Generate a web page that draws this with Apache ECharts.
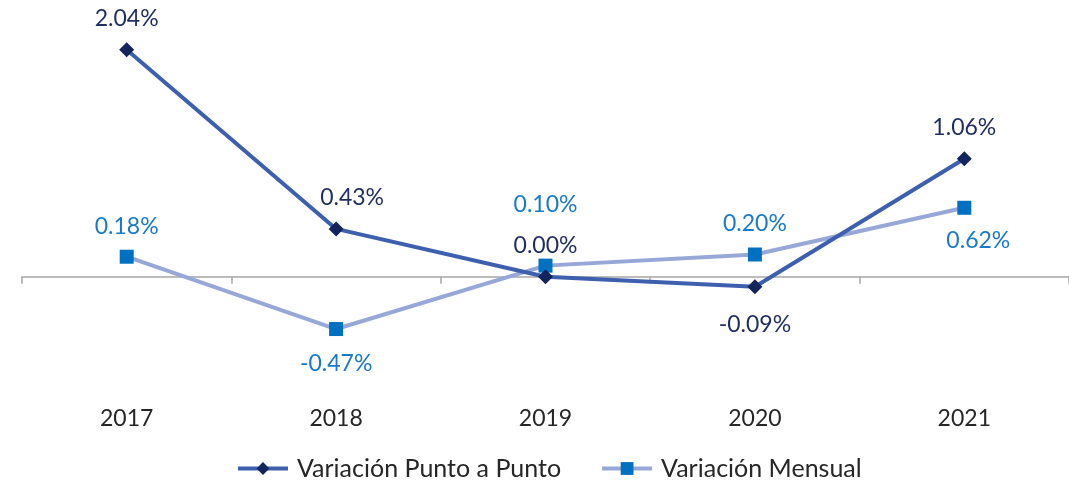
<!DOCTYPE html>
<html>
<head>
<meta charset="utf-8">
<script src="https://cdn.jsdelivr.net/npm/echarts@6/dist/echarts.min.js"></script>
<style>
  html, body { margin: 0; padding: 0; background: #fff; }
  #chart { width: 1069px; height: 487px; }
</style>
</head>
<body>
<div id="chart"></div>
<script>
// datos
const years = ["2017", "2018", "2019", "2020", "2021"];
const puntoAPunto = [2.04, 0.43, 0.00, -0.09, 1.06];
const mensual = [0.18, -0.47, 0.10, 0.20, 0.62];
const seriesNames = ["Variación Punto a Punto", "Variación Mensual"];

const FONT = "Lato";

// ubicación de cada etiqueta (sólo estilo)
const ppLabels = [
    { position: "top" },
    { position: "top", offset: [16, 0] },
    { position: "top" },
    { position: "bottom", distance: 19 },
    { position: "top" }
];
const meLabels = [
    { position: "top" },
    { position: "bottom", distance: 16 },
    { position: "top", distance: 43 },
    { position: "top" },
    { position: "bottom", distance: 14, offset: [14, 0] }
];

function withLabels(values, labels) {
    return values.map((v, i) => ({ value: v, label: labels[i] }));
}

const chart = echarts.init(document.getElementById("chart"));

const option = {
    animation: false,
    backgroundColor: "#fff",
    textStyle: { fontFamily: FONT },
    grid: { left: 22, right: 0, top: 32, bottom: 99 },
    legend: {
        bottom: 1,
        left: 231,
        itemWidth: 50,
        itemHeight: 16,
        itemGap: 39,
        lineStyle: { width: 4 },
        textStyle: { fontSize: 25, color: "#262626", fontFamily: FONT, padding: [0, 0, 0, 4] },
        data: seriesNames
    },
    xAxis: [
        {
            type: "category",
            data: years,
            boundaryGap: true,
            axisLine: { onZero: true, lineStyle: { color: "#a6a6a6", width: 1.5 } },
            axisTick: { show: true, length: 7, lineStyle: { color: "#a6a6a6", width: 1.5 } },
            axisLabel: { show: false },
            splitLine: { show: false }
        },
        {
            type: "category",
            data: years,
            position: "bottom",
            boundaryGap: true,
            axisLine: { show: false },
            axisTick: { show: false },
            axisLabel: { margin: 19, fontSize: 23, color: "#262626", fontFamily: FONT },
            splitLine: { show: false }
        }
    ],
    yAxis: {
        type: "value",
        min: -1,
        max: 2.2,
        show: false,
        splitLine: { show: false }
    },
    series: [
        {
            name: seriesNames[0],
            type: "line",
            xAxisIndex: 0,
            data: withLabels(puntoAPunto, ppLabels),
            symbol: "diamond",
            symbolSize: 15,
            lineStyle: { color: "#3d5fae", width: 4 },
            itemStyle: { color: "#13235b" },
            label: {
                show: true,
                distance: 12,
                fontSize: 23,
                color: "#1f2d5f",
                fontFamily: FONT,
                formatter: (p) => p.value.toFixed(2) + "%"
            },
            z: 3
        },
        {
            name: seriesNames[1],
            type: "line",
            xAxisIndex: 0,
            data: withLabels(mensual, meLabels),
            symbol: "rect",
            symbolSize: 14,
            lineStyle: { color: "#97a7d8", width: 4 },
            itemStyle: { color: "#0070c0" },
            label: {
                show: true,
                distance: 12,
                fontSize: 23,
                color: "#1a7ac8",
                fontFamily: FONT,
                formatter: (p) => p.value.toFixed(2) + "%"
            },
            z: 2
        }
    ]
};

chart.setOption(option);
</script>
</body>
</html>
